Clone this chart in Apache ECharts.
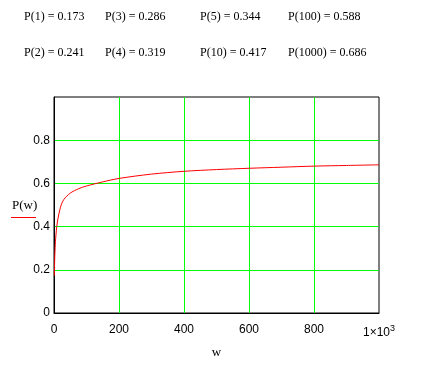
<!DOCTYPE html>
<html>
<head>
<meta charset="utf-8">
<script src="https://cdn.jsdelivr.net/npm/echarts@6/dist/echarts.min.js"></script>
<style>html,body{margin:0;padding:0;background:#fff;}#c{width:423px;height:365px;}</style>
</head>
<body>
<div id="c"></div>
<script>
// Readouts shown above the plot
const readoutRow1 = ['P(1) = 0.173', 'P(3) = 0.286', 'P(5) = 0.344', 'P(100) = 0.588'];
const readoutRow2 = ['P(2) = 0.241', 'P(4) = 0.319', 'P(10) = 0.417', 'P(1000) = 0.686'];

// Curve P(w)
const wValues = [1, 2, 3, 4, 5, 10, 20, 30, 50, 75, 100, 150, 200, 300, 400, 500, 600, 700, 800, 900, 1000];
const pValues = [0.173, 0.241, 0.286, 0.319, 0.344, 0.417, 0.49, 0.525, 0.555, 0.575, 0.588, 0.607, 0.623, 0.643, 0.656, 0.664, 0.670, 0.675, 0.680, 0.683, 0.686];

const xTicks = [0, 200, 400, 600, 800, 1000];
const yTicks = [0, 0.2, 0.4, 0.6, 0.8];

const chart = echarts.init(document.getElementById('c'), null, {renderer: 'canvas'});
const serif = '"Liberation Serif", "Times New Roman", serif';
const sans = '"Liberation Sans", Arial, sans-serif';
const colX = [24, 105, 200, 288];

const graphics = [];
readoutRow1.forEach((t, i) => graphics.push({type: 'text', left: colX[i], top: 11, style: {text: t, font: '12px ' + serif, fill: '#000'}}));
readoutRow2.forEach((t, i) => graphics.push({type: 'text', left: colX[i], top: 47, style: {text: t, font: '12px ' + serif, fill: '#000'}}));
graphics.push({type: 'text', left: 12, top: 199, style: {text: 'P(w)', font: '13px ' + serif, fill: '#000'}});
graphics.push({type: 'line', shape: {x1: 11, y1: 217.5, x2: 36, y2: 217.5}, style: {stroke: '#ff0000', lineWidth: 1}});

chart.setOption({
  animation: false,
  backgroundColor: '#fff',
  graphic: graphics,
  grid: {left: 54, top: 97, width: 325, height: 216, show: true, borderColor: '#000', borderWidth: 1, backgroundColor: 'transparent'},
  xAxis: {
    type: 'value', min: 0, max: 1000, interval: 200,
    name: 'w', nameLocation: 'middle', nameGap: 33,
    nameTextStyle: {fontFamily: serif, fontSize: 13, color: '#000'},
    axisLine: {show: true, lineStyle: {color: '#000', width: 1}},
    axisTick: {show: false},
    axisLabel: {
      margin: 11, color: '#000', fontFamily: sans, fontSize: 12,
      formatter: v => xTicks.includes(v) ? (v === 1000 ? '1×10{sup|3}' : String(v)) : '',
      rich: {sup: {fontSize: 9, verticalAlign: 'top', padding: [0, 0, 8, 0], fontFamily: sans, color: '#000'}}
    },
    splitLine: {show: true, showMinLine: false, showMaxLine: false, lineStyle: {color: '#00ff00', width: 1}}
  },
  yAxis: {
    type: 'value', min: 0, max: 1, interval: 0.2,
    axisLine: {show: true, lineStyle: {color: '#000', width: 1}},
    axisTick: {show: false},
    axisLabel: {
      margin: 4, color: '#000', fontFamily: sans, fontSize: 12,
      formatter: v => {
        const m = yTicks.find(t => Math.abs(t - v) < 1e-9);
        return m === undefined ? '' : (m === 0 ? '0' : m.toFixed(1));
      }
    },
    splitLine: {show: true, showMinLine: false, showMaxLine: false, lineStyle: {color: '#00ff00', width: 1}}
  },
  series: [{
    type: 'line',
    data: wValues.map((w, i) => [w, pValues[i]]),
    showSymbol: false, smooth: 0.3,
    lineStyle: {color: '#ff0000', width: 1},
    z: 5
  }]
});
</script>
</body>
</html>
